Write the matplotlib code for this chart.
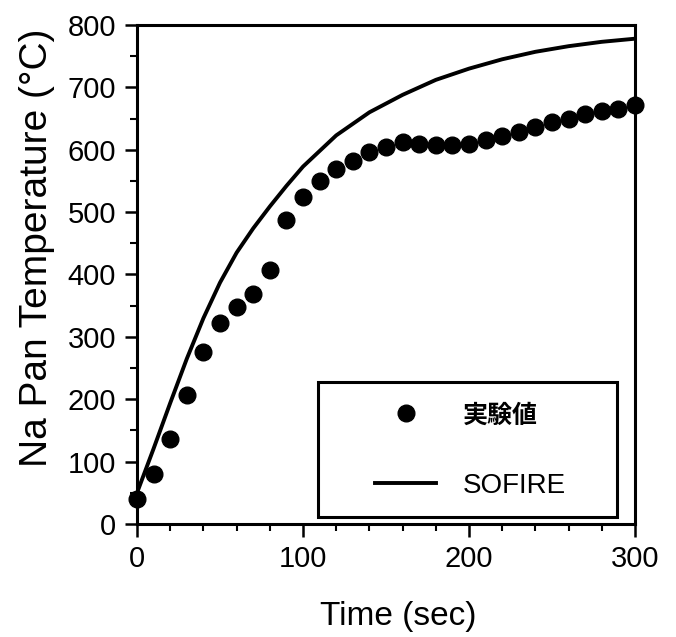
import matplotlib
matplotlib.use("Agg")
import matplotlib.pyplot as plt
from matplotlib.ticker import MultipleLocator
from matplotlib.patches import Rectangle

# valeurs
time_exp = [0, 10, 20, 30, 40, 50, 60, 70, 80, 90, 100, 110, 120, 130, 140, 150,
            160, 170, 180, 190, 200, 210, 220, 230, 240, 250, 260, 270, 280, 290, 300]
temp_exp = [40, 80, 136, 207, 276, 322, 348, 369, 407, 487, 524, 550, 569, 582, 597, 605,
            612, 609, 608, 608, 609, 615, 622, 629, 636, 645, 650, 658, 662, 666, 671]

time_sofire = [0, 10, 20, 30, 40, 50, 60, 70, 80, 90, 100, 120, 140, 160, 180, 200,
               220, 240, 260, 280, 300]
temp_sofire = [50, 121, 194, 265, 330, 387, 435, 474, 509, 542, 573, 623, 660, 688, 712, 730,
               745, 757, 766, 773, 778]

label_exp = "実験値"
label_sofire = "SOFIRE"

plt.rcParams['font.family'] = ['Liberation Sans', 'Noto Sans CJK JP', 'DejaVu Sans']

fig = plt.figure(figsize=(6.76, 6.37), dpi=100)
ax = fig.add_axes([0.2027, 0.1774, 0.7367, 0.7834])

ax.plot(time_exp, temp_exp, 'o', color='black', markersize=12, label=label_exp,
        clip_on=False, zorder=3)
ax.plot(time_sofire, temp_sofire, '-', color='black', linewidth=2.8, label=label_sofire)

ax.set_xlim(0, 300)
ax.set_ylim(0, 800)
ax.xaxis.set_major_locator(MultipleLocator(100))
ax.xaxis.set_minor_locator(MultipleLocator(20))
ax.yaxis.set_major_locator(MultipleLocator(100))
ax.yaxis.set_minor_locator(MultipleLocator(50))
ax.tick_params(which='major', direction='out', length=9, width=1.8, labelsize=21, pad=6)
ax.tick_params(which='minor', direction='out', length=5, width=1.5)

for s in ax.spines.values():
    s.set_linewidth(2.2)

ax.set_xlabel("Time (sec)", fontsize=24)
ax.set_ylabel("Na Pan Temperature (°C)", fontsize=28)
ax.xaxis.set_label_coords(0.524, -0.155)
ax.yaxis.set_label_coords(-0.165, 0.553)

# cadre de la légende
ax.add_patch(Rectangle((0.364, 0.014), 0.6, 0.27, transform=ax.transAxes,
                       fill=False, edgecolor='black', linewidth=2.2, zorder=4))
leg = ax.legend(loc='center left', bbox_to_anchor=(0.450, 0.146), frameon=False,
                fontsize=20, numpoints=1, handlelength=2.2, handletextpad=0.95,
                labelspacing=1.6, borderpad=0)
leg.get_texts()[0].set_fontweight('bold')
leg.get_texts()[0].set_fontsize(18)

plt.savefig("out.png", dpi=100)
